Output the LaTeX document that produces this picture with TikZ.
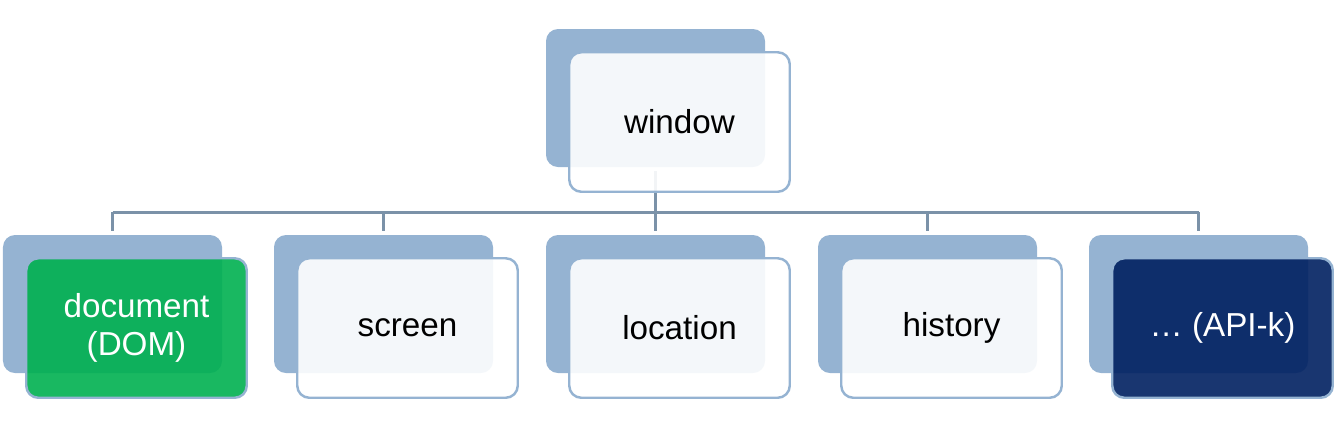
\documentclass[tikz,border=0pt]{standalone}
\usepackage{fontspec}
\setmainfont{Liberation Sans}
\usepackage{tikz}
\usetikzlibrary{positioning}
\definecolor{backblue}{RGB}{149,179,210}
\definecolor{linkgray}{RGB}{123,146,168}
\definecolor{domgreen}{RGB}{0,176,80}
\definecolor{apiblue}{RGB}{0,32,96}
\tikzset{backbox/.style={
            fill=backblue,
            rounded corners=0.24cm,
            inner sep=0pt,
            minimum width=4.38cm,
            minimum height=2.76cm
        },
        frontbox/.style={
            draw=backblue,
            fill=white,
            fill opacity=0.9,
            text opacity=1,
            line width=1.4pt,
            rounded corners=0.24cm,
            inner sep=0pt,
            minimum width=4.41cm,
            minimum height=2.79cm,
            align=center,
            font=\fontsize{18.9}{21.2}\selectfont
        },
        greenbox/.style={
            frontbox,
            fill=domgreen,
            text=white
        },
        darkbox/.style={
            frontbox,
            fill=apiblue,
            text=white
        },
        link/.style={
            draw=linkgray,
            line width=1.7pt
        }
    }
\begin{document}
\begin{tikzpicture}
\useasboundingbox (0,0) rectangle (26.7,-8.68);
% back boxes
\node[backbox] (winb) at (13.11,-1.96) {};
\node[backbox] (docb) at (2.25,-6.08) {};
\node[backbox] (scrb) at (7.67,-6.08) {};
\node[backbox] (locb) at (13.11,-6.08) {};
\node[backbox] (hisb) at (18.55,-6.08) {};
\node[backbox] (apib) at (23.97,-6.08) {};
% tree lines
\coordinate (bus) at (0,-4.24);
\draw[link] ([yshift=-2pt]winb.south) -- (winb.south |- bus);
\draw[link] (docb.north |- bus) -- (apib.north |- bus);
\draw[link] (docb.north |- bus) -- ([yshift=2pt]docb.north);
\draw[link] (scrb.north |- bus) -- ([yshift=2pt]scrb.north);
\draw[link] (locb.north |- bus) -- ([yshift=2pt]locb.north);
\draw[link] (hisb.north |- bus) -- ([yshift=2pt]hisb.north);
\draw[link] (apib.north |- bus) -- ([yshift=2pt]apib.north);
% front boxes
\node[frontbox] (win) at ([shift={(0.48,-0.48)}]winb) {window};
\node[greenbox] (doc) at ([shift={(0.48,-0.48)}]docb) {document\\(DOM)};
\node[frontbox] (scr) at ([shift={(0.48,-0.48)}]scrb) {screen};
\node[frontbox] (loc) at ([shift={(0.48,-0.48)}]locb) {location};
\node[frontbox] (his) at ([shift={(0.48,-0.48)}]hisb) {history};
\node[darkbox] (api) at ([shift={(0.48,-0.48)}]apib) {… (API-k)};
\end{tikzpicture}
\end{document}
